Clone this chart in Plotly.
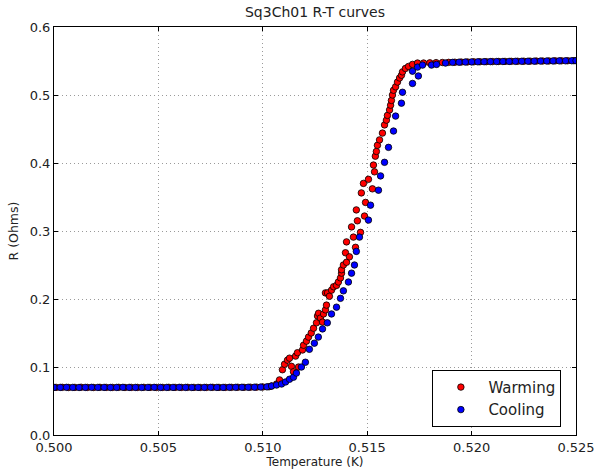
import plotly.graph_objects as go

title = "Sq3Ch01 R-T curves"
x_label = "Temperature (K)"
y_label = "R (Ohms)"
x_ticks = [0.500, 0.505, 0.510, 0.515, 0.520, 0.525]
x_tick_text = ["0.500", "0.505", "0.510", "0.515", "0.520", "0.525"]
y_ticks = [0.0, 0.1, 0.2, 0.3, 0.4, 0.5, 0.6]
y_tick_text = ["0.0", "0.1", "0.2", "0.3", "0.4", "0.5", "0.6"]

# Warming series (red)
warm_T = [
    0.5001, 0.5004, 0.5007, 0.5010, 0.5013, 0.5016, 0.5019, 0.5022, 0.5025, 0.5028,
    0.5031, 0.5034, 0.5037, 0.5040, 0.5043, 0.5046, 0.5049, 0.5052, 0.5055, 0.5058,
    0.5061, 0.5064, 0.5067, 0.5070, 0.5073, 0.5076, 0.5079, 0.5082, 0.5085, 0.5088,
    0.5091, 0.5094, 0.5097, 0.5100, 0.5103,
    0.51042, 0.51066, 0.51080, 0.51094, 0.51104, 0.51118, 0.51128, 0.51137, 0.51147, 0.51157,
    0.51166, 0.51171, 0.51190, 0.51195, 0.51209, 0.51219, 0.51232, 0.51243, 0.51257, 0.51262,
    0.51267, 0.51276, 0.51286, 0.51291, 0.51300, 0.51305, 0.51300, 0.51310, 0.51319, 0.51329,
    0.51339, 0.51353, 0.51362, 0.51372, 0.51377, 0.51377, 0.51386, 0.51401, 0.51396, 0.51415,
    0.51401, 0.51444, 0.51425, 0.51434, 0.51453, 0.51468, 0.51448, 0.51487, 0.51472, 0.51492,
    0.51482, 0.51525, 0.51506, 0.51535, 0.51530, 0.51539, 0.51544, 0.51549, 0.51559, 0.51573,
    0.51583, 0.51592, 0.51597, 0.51607, 0.51612, 0.51616, 0.51621, 0.51626, 0.51636, 0.51645,
    0.51655, 0.51664, 0.51669, 0.51683, 0.51698, 0.51717, 0.51741,
    0.5177, 0.5180, 0.5183, 0.5186, 0.5189, 0.5192, 0.5195, 0.5198, 0.5201, 0.5204,
    0.5207, 0.5210, 0.5213, 0.5216, 0.5219, 0.5222, 0.5225, 0.5228, 0.5231, 0.5234,
    0.5237, 0.5240, 0.5243, 0.5246, 0.5249,
]
warm_R = [
    0.0700, 0.0701, 0.0699, 0.0700, 0.0702, 0.0700, 0.0699, 0.0701, 0.0700, 0.0700,
    0.0701, 0.0699, 0.0700, 0.0700, 0.0701, 0.0700, 0.0699, 0.0700, 0.0701, 0.0700,
    0.0700, 0.0701, 0.0700, 0.0699, 0.0700, 0.0701, 0.0700, 0.0700, 0.0701, 0.0702,
    0.0701, 0.0703, 0.0704, 0.0706, 0.0710,
    0.072, 0.075, 0.081, 0.096, 0.104, 0.110, 0.113, 0.101, 0.093, 0.116,
    0.121, 0.100, 0.125, 0.132, 0.138, 0.144, 0.150, 0.157, 0.165, 0.175,
    0.179, 0.172, 0.166, 0.178, 0.184, 0.191, 0.209, 0.209, 0.204, 0.213,
    0.218, 0.220, 0.225, 0.231, 0.238, 0.243, 0.250, 0.254, 0.268, 0.262,
    0.284, 0.276, 0.306, 0.291, 0.315, 0.298, 0.331, 0.322, 0.356, 0.342,
    0.370, 0.362, 0.376, 0.387, 0.397, 0.410, 0.417, 0.426, 0.434, 0.444,
    0.456, 0.463, 0.470, 0.478, 0.485, 0.492, 0.500, 0.507, 0.512, 0.519,
    0.525, 0.529, 0.534, 0.539, 0.542, 0.545, 0.547,
    0.5470, 0.5473, 0.5476, 0.5478, 0.5480, 0.5482, 0.5484, 0.5486, 0.5488, 0.5489,
    0.5490, 0.5491, 0.5493, 0.5494, 0.5495, 0.5496, 0.5497, 0.5498, 0.5499, 0.5500,
    0.5501, 0.5502, 0.5503, 0.5504, 0.5505,
]

# Cooling series (blue)
cool_T = [
    0.5000, 0.5003, 0.5006, 0.5009, 0.5012, 0.5015, 0.5018, 0.5021, 0.5024, 0.5027,
    0.5030, 0.5033, 0.5036, 0.5039, 0.5042, 0.5045, 0.5048, 0.5051, 0.5054, 0.5057,
    0.5060, 0.5063, 0.5066, 0.5069, 0.5072, 0.5075, 0.5078, 0.5081, 0.5084, 0.5087,
    0.5090, 0.5093, 0.5096, 0.5099, 0.5102,
    0.51042, 0.51066, 0.51090, 0.51109, 0.51128, 0.51147, 0.51161, 0.51185, 0.51204, 0.51223,
    0.51247, 0.51266, 0.51286, 0.51309, 0.51329, 0.51353, 0.51372, 0.51386, 0.51410, 0.51425,
    0.51439, 0.51448, 0.51463, 0.51506, 0.51516, 0.51554, 0.51564, 0.51583, 0.51602, 0.51626,
    0.51636, 0.51664, 0.51669, 0.51717, 0.51745, 0.51717, 0.51741, 0.51765, 0.51808, 0.51832,
    0.51875, 0.51909,
    0.5194, 0.5197, 0.5200, 0.5203, 0.5206, 0.5209, 0.5212, 0.5215, 0.5218, 0.5221,
    0.5224, 0.5227, 0.5230, 0.5233, 0.5236, 0.5239, 0.5242, 0.5245, 0.5248, 0.5250,
]
cool_R = [
    0.0700, 0.0700, 0.0701, 0.0700, 0.0699, 0.0700, 0.0701, 0.0700, 0.0700, 0.0699,
    0.0700, 0.0701, 0.0700, 0.0700, 0.0699, 0.0700, 0.0701, 0.0700, 0.0700, 0.0700,
    0.0701, 0.0700, 0.0699, 0.0700, 0.0700, 0.0701, 0.0700, 0.0700, 0.0701, 0.0701,
    0.0702, 0.0702, 0.0703, 0.0705, 0.0708,
    0.0720, 0.0735, 0.075, 0.078, 0.082, 0.085, 0.091, 0.100, 0.107, 0.126,
    0.135, 0.144, 0.156, 0.165, 0.178, 0.188, 0.201, 0.212, 0.225, 0.238,
    0.250, 0.270, 0.291, 0.316, 0.338, 0.360, 0.381, 0.401, 0.423, 0.447,
    0.469, 0.488, 0.504, 0.517, 0.528, 0.535, 0.541, 0.544, 0.544, 0.545,
    0.547, 0.548,
    0.5483, 0.5485, 0.5487, 0.5488, 0.5490, 0.5491, 0.5492, 0.5493, 0.5494, 0.5495,
    0.5496, 0.5497, 0.5498, 0.5499, 0.5500, 0.5501, 0.5502, 0.5503, 0.5504, 0.5505,
]

marker_line = dict(color="black", width=0.8)

fig = go.Figure()
fig.add_trace(go.Scatter(
    x=warm_T, y=warm_R, mode="markers", name="Warming",
    marker=dict(color="#ff0000", size=6.5, line=marker_line),
))
fig.add_trace(go.Scatter(
    x=cool_T, y=cool_R, mode="markers", name="Cooling",
    marker=dict(color="#0000ff", size=6.5, line=marker_line),
))

font_family = "DejaVu Sans, sans-serif"
fig.update_layout(
    width=598, height=470,
    margin=dict(l=54, r=22, t=27, b=35),
    paper_bgcolor="white", plot_bgcolor="white",
    font=dict(family=font_family, size=13, color="#222"),
    title=dict(text=title, x=0.5, xanchor="center", xref="paper",
               y=1 - 12 / 470, yanchor="middle", font=dict(size=14, color="#222")),
    showlegend=True,
    legend=dict(
        x=0.972, y=0.02, xanchor="right", yanchor="bottom",
        bordercolor="black", borderwidth=1, bgcolor="white",
        font=dict(size=15, color="#222"), itemwidth=45,
    ),
)
grid_style = dict(showgrid=True, gridcolor="#9a9a9a", griddash="1px,3px", gridwidth=1)
fig.update_xaxes(
    range=[0.500, 0.525], tickvals=x_ticks, ticktext=x_tick_text,
    automargin=False,
    showline=True, linecolor="black", linewidth=1, mirror="ticks",
    ticks="inside", ticklen=4, tickcolor="black",
    zeroline=False,
    title=dict(text=x_label, standoff=0, font=dict(size=12)),
    **grid_style,
)
fig.update_yaxes(
    range=[0.0, 0.6], tickvals=y_ticks, ticktext=y_tick_text,
    automargin=False,
    showline=True, linecolor="black", linewidth=1, mirror="ticks",
    ticks="inside", ticklen=4, tickcolor="black",
    zeroline=False,
    title=dict(text=y_label, standoff=8, font=dict(size=12.5)),
    **grid_style,
)

fig.write_html(
    "out.html",
    config={"displayModeBar": False},
    post_script="document.body.style.margin='0';document.body.style.overflow='hidden';",
)
